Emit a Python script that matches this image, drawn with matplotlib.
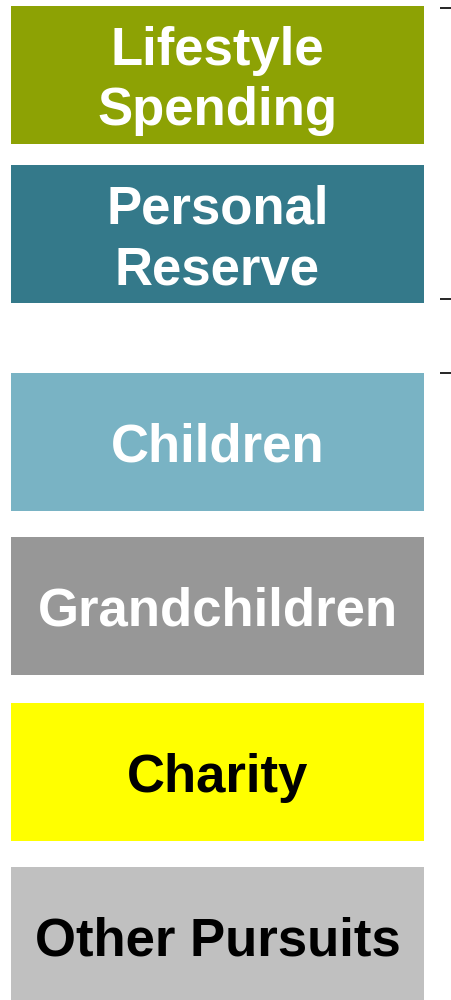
import matplotlib.pyplot as plt

# Boxes, top to bottom
labels = ["Lifestyle\nSpending", "Personal\nReserve", "Children",
          "Grandchildren", "Charity", "Other Pursuits"]
colors = ["#8DA204", "#34798A", "#79B3C4", "#979797", "#FFFF00", "#C0C0C0"]
text_colors = ["white", "white", "white", "white", "black", "black"]
box_tops = [6, 165, 373, 537, 703, 867]
box_height = 138

# little tick marks on the right edge
tick_ys = [8, 299, 373]


def main():
    fig = plt.figure(figsize=(4.52, 10), dpi=100)
    ax = fig.add_axes([0, 0, 1, 1])
    ax.set_xlim(0, 452)
    ax.set_ylim(1000, 0)
    ax.axis("off")

    centers = [t + box_height / 2 for t in box_tops]
    ax.barh(centers, 413, height=box_height, left=11, color=colors)

    for c, lab, tc in zip(centers, labels, text_colors):
        ax.text(217.5, c + 6, lab, ha="center", va="center", color=tc,
                fontsize=38, fontweight="bold", family="Liberation Sans",
                linespacing=1.28)

    for y in tick_ys:
        ax.plot([440, 452], [y, y], color="black", lw=1.2,
                solid_capstyle="butt")

    fig.savefig("out.png", dpi=100)


if __name__ == "__main__":
    main()
